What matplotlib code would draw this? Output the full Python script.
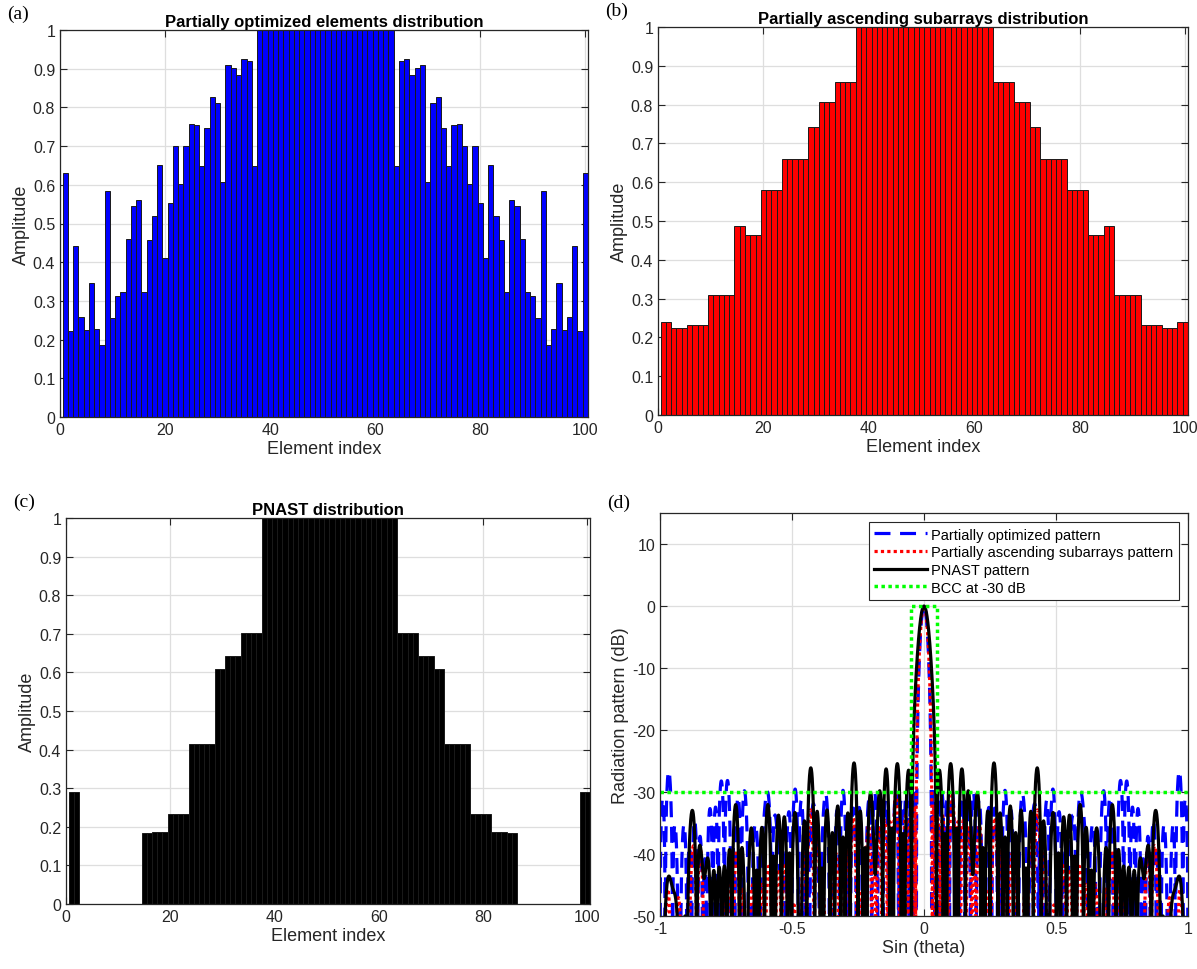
import numpy as np
import matplotlib.pyplot as plt
from matplotlib.ticker import FormatStrFormatter

plt.rcParams['font.family'] = ['Liberation Sans', 'DejaVu Sans']
plt.rcParams['axes.unicode_minus'] = False

# ------------------------------------------------------------
# Element amplitudes (arrays are symmetric about the centre)
# ------------------------------------------------------------
n_elem = 100
index = np.arange(1, n_elem + 1)

# (a) partially optimized elements, first half
opt_half = [0.630, 0.221, 0.441, 0.259, 0.226, 0.345, 0.228, 0.185, 0.583, 0.257,
            0.312, 0.322, 0.459, 0.545, 0.560, 0.323, 0.457, 0.520, 0.650, 0.410,
            0.553, 0.699, 0.601, 0.700, 0.756, 0.754, 0.649, 0.746, 0.826, 0.812,
            0.606, 0.910, 0.901, 0.883, 0.926, 0.920, 0.649,
            1.0, 1.0, 1.0, 1.0, 1.0, 1.0, 1.0, 1.0, 1.0, 1.0, 1.0, 1.0, 1.0]

# subarray sizes (first half) shared by (b) and (c)
sub_sizes = [2, 3, 4, 5, 2, 3, 4, 5, 2, 3, 4, 13]
# (b) partially ascending subarrays
asc_levels = [0.239, 0.224, 0.231, 0.308, 0.487, 0.463, 0.580, 0.660, 0.743, 0.807, 0.859, 1.0]
# (c) PNAST
pnast_levels = [0.291, 0.0, 0.0, 0.0, 0.184, 0.187, 0.232, 0.414, 0.608, 0.643, 0.703, 1.0]


def mirror(half):
    half = np.asarray(half, dtype=float)
    return np.concatenate([half, half[::-1]])


w_opt = mirror(opt_half)
w_asc = mirror(np.repeat(asc_levels, sub_sizes))
w_pnast = mirror(np.repeat(pnast_levels, sub_sizes))

# ------------------------------------------------------------
# Array factor (half-wavelength spacing)
# ------------------------------------------------------------
u = np.linspace(-1, 1, 4001)
steer = np.exp(1j * np.pi * np.outer(u, np.arange(n_elem)))


def pattern_db(w):
    af = np.abs(steer @ w)
    return 20 * np.log10(af / af.max() + 1e-12)


mask_u = [-1, -0.05, -0.05, 0.05, 0.05, 1]
mask_db = [-30, -30, 0, 0, -30, -30]

# ------------------------------------------------------------
# Figure
# ------------------------------------------------------------
W, H = 1197, 970
fig = plt.figure(figsize=(W / 100, H / 100), dpi=100)

axc = '#262626'
gridc = '#dedede'


def pos(l, t, r, b):
    return [l / W, 1 - b / H, (r - l) / W, (b - t) / H]


def style(ax):
    ax.grid(True, color=gridc, linewidth=0.9)
    ax.set_axisbelow(True)
    ax.tick_params(direction='in', top=True, right=True, labelsize=11.5,
                   colors=axc, length=5, width=0.8)
    for s in ax.spines.values():
        s.set_color(axc)
        s.set_linewidth(0.9)


def bar_panel(rect, w, color, title, label):
    ax = fig.add_axes(rect)
    ax.bar(index, w, width=1.0, color=color, edgecolor='#1a1a1a', linewidth=0.7)
    ax.set_xlim(0, 100.5)
    ax.set_ylim(0, 1)
    ax.set_xticks([0, 20, 40, 60, 80, 100])
    ax.set_yticks(np.arange(0, 1.01, 0.1))
    ax.yaxis.set_major_formatter(FormatStrFormatter('%g'))
    ax.set_xlabel('Element index', fontsize=13, color=axc, labelpad=2)
    ax.set_ylabel('Amplitude', fontsize=13, color=axc, labelpad=2)
    ax.set_title(title, fontsize=12, fontweight='bold', pad=3)
    style(ax)
    ax.text(-0.1, 1.02, label, transform=ax.transAxes, fontsize=14,
            family='Liberation Serif', ha='left', va='bottom')
    return ax


bar_panel(pos(60, 31, 588, 418), w_opt, '#0000ff',
          'Partially optimized elements distribution', '(a)')
bar_panel(pos(658, 28, 1188, 416), w_asc, '#ff0000',
          'Partially ascending subarrays distribution', '(b)')
bar_panel(pos(66, 519, 590, 905), w_pnast, '#000000',
          'PNAST distribution', '(c)')

# (d) radiation patterns
ax = fig.add_axes(pos(660, 514, 1188, 917))
ax.plot(u, pattern_db(w_opt), color='#0000ff', linestyle=(0, (5, 3)), linewidth=2.3,
        label='Partially optimized pattern')
ax.plot(u, pattern_db(w_asc), color='#ff0000', linestyle=(0, (1, 1)), linewidth=2.3,
        label='Partially ascending subarrays pattern')
ax.plot(u, pattern_db(w_pnast), color='black', linewidth=2.3,
        label='PNAST pattern')
ax.plot(mask_u, mask_db, color='#00ff00', linestyle=(0, (1, 1)), linewidth=2.5,
        label='BCC at -30 dB')
ax.set_xlim(-1, 1)
ax.set_ylim(-50, 15)
ax.set_xticks([-1, -0.5, 0, 0.5, 1])
ax.set_yticks([-50, -40, -30, -20, -10, 0, 10])
ax.xaxis.set_major_formatter(FormatStrFormatter('%g'))
ax.set_xlabel('Sin (theta)', fontsize=13, color=axc, labelpad=2)
ax.set_ylabel('Radiation pattern (dB)', fontsize=13, color=axc, labelpad=2)
style(ax)
leg = ax.legend(loc='upper right', fontsize=10.5, handlelength=3.6, handletextpad=0.3,
                borderpad=0.4, labelspacing=0.25, fancybox=False, framealpha=1,
                borderaxespad=0.6)
leg.get_frame().set_edgecolor(axc)
leg.get_frame().set_linewidth(0.8)
ax.text(-0.1, 1.005, '(d)', transform=ax.transAxes, fontsize=14,
        family='Liberation Serif', ha='left', va='bottom')

fig.savefig('out.png', dpi=100)
